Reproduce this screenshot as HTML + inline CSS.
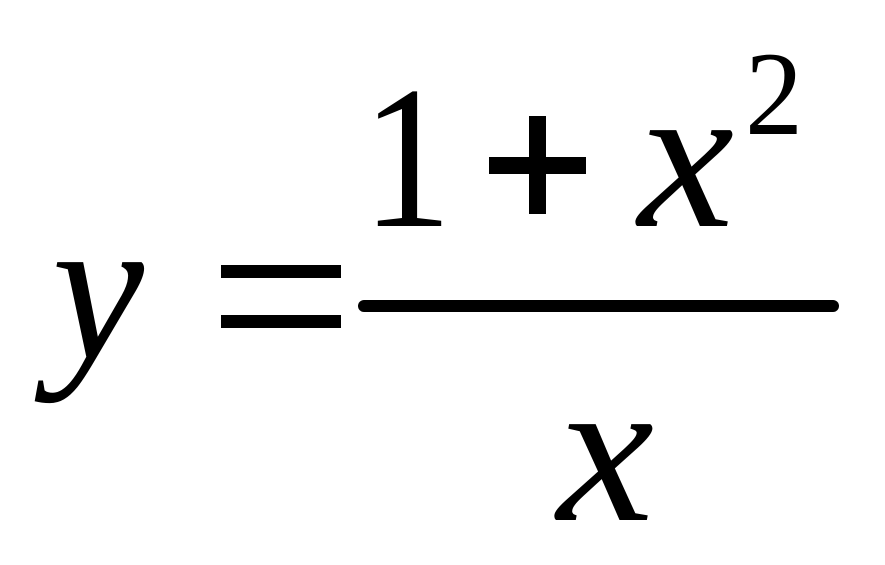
<!DOCTYPE html>
<html><head><meta charset="utf-8"><style>
html,body{margin:0;padding:0;background:#fff;width:885px;height:565px;overflow:hidden}
</style></head><body>
<svg width="885" height="565" viewBox="0 0 885 565" xmlns="http://www.w3.org/2000/svg">
<rect width="885" height="565" fill="#fff"/>
<g font-family="Liberation Serif, serif" fill="#000">
<text x="52" y="358" font-size="209" font-style="italic" textLength="92" lengthAdjust="spacingAndGlyphs">y</text>
<text x="362" y="226" font-size="204" textLength="90" lengthAdjust="spacingAndGlyphs">1</text>
<text x="638" y="226" font-size="209" font-style="italic" textLength="96" lengthAdjust="spacingAndGlyphs">x</text>
<text x="745" y="134" font-size="120" textLength="58" lengthAdjust="spacingAndGlyphs">2</text>
<text x="557" y="520" font-size="209" font-style="italic" textLength="97" lengthAdjust="spacingAndGlyphs">x</text>
</g>
<rect x="221" y="265" width="120" height="13" fill="#000"/>
<rect x="221" y="315" width="120" height="13" fill="#000"/>
<rect x="489" y="157" width="97" height="17" fill="#000"/>
<rect x="529" y="116" width="17" height="98" fill="#000"/>
<rect x="358" y="300" width="481" height="12" rx="6" fill="#000"/>
</svg>
</body></html>
